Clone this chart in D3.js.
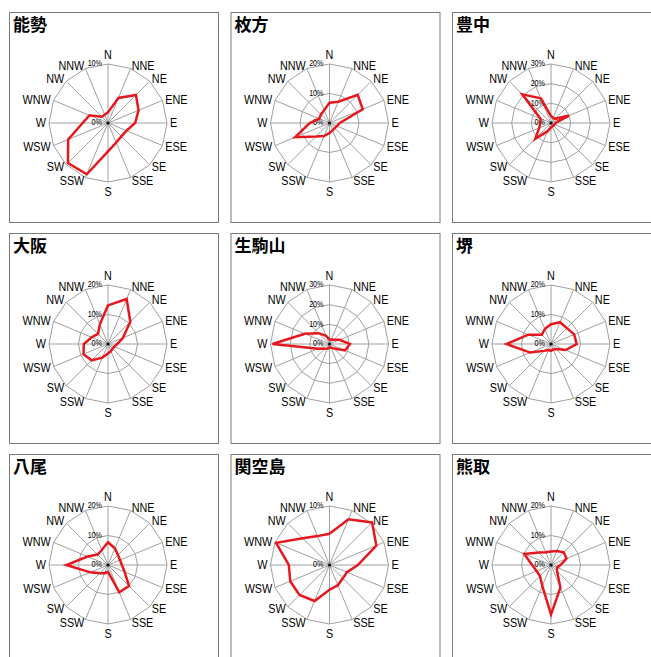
<!DOCTYPE html>
<html>
<head>
<meta charset="utf-8">
<script src="https://cdn.jsdelivr.net/npm/d3@7"></script>
<style>
  body { margin: 0; background: #fff; }
  svg text { font-family: "Liberation Sans", Arial, sans-serif; fill: #000; }
  .title { font-family: "Noto Sans CJK JP", sans-serif; font-weight: bold; }
</style>
</head>
<body>
<div id="chart"></div>
<script>
// wind directions, clockwise from north
const directions = ["N", "NNE", "NE", "ENE", "E", "ESE", "SE", "SSE",
                    "S", "SSW", "SW", "WSW", "W", "WNW", "NW", "NNW"]

const stations = ["能勢", "枚方", "豊中", "大阪", "生駒山", "堺", "八尾", "関空島", "熊取"]
// outer ring value (%) of each rose, rings every 10%
const scaleMax = [10, 20, 30, 20, 30, 20, 20, 10, 20]
const ringStep = 10

// frequency (%) by direction, same order as directions
const nose      = [1.8, 4.6, 6.7, 5.6, 4.6, 3.4, 3.2, 3.6, 4.8, 9.4, 9.6, 7.3, 4.3, 3.4, 1.5, 1.5]
const hirakata  = [6.9, 7.8, 13.5, 12.2, 3.5, 2.7, 2.5, 2.7, 3.4, 4.8, 6.5, 12.6, 6.7, 3.8, 4.1, 4.7]
const toyonaka  = [3.5, 2.8, 3.0, 9.9, 2.3, 2.0, 1.8, 1.8, 2.3, 4.5, 11.3, 6.5, 5.5, 5.8, 20.6, 13.6]
const osaka     = [13.1, 16.5, 10.7, 5.5, 3.1, 2.3, 2.2, 2.6, 3.2, 5.0, 7.8, 9.0, 8.2, 6.0, 4.8, 7.2]
const ikomayama = [2.3, 2.5, 3.0, 5.5, 10.4, 8.5, 3.3, 2.0, 1.8, 2.5, 3.5, 6.2, 29.0, 13.6, 7.8, 4.5]
const sakai     = [6.7, 8.0, 7.6, 8.5, 8.7, 5.3, 2.4, 2.0, 2.3, 2.2, 3.3, 7.6, 15.1, 8.3, 4.4, 5.5]
const yao       = [7.7, 6.1, 4.8, 4.4, 4.7, 6.1, 10.1, 10.0, 2.3, 3.0, 3.9, 6.5, 14.1, 7.5, 5.0, 5.5]
const kankujima = [5.3, 8.4, 10.2, 8.6, 4.8, 3.2, 3.2, 3.7, 4.2, 6.6, 7.2, 7.2, 6.9, 9.8, 6.4, 5.3]
const kumatori  = [4.6, 5.1, 6.1, 5.7, 3.2, 2.2, 2.9, 8.3, 16.8, 7.7, 5.3, 5.3, 6.4, 9.8, 6.0, 4.7]

const series = [nose, hirakata, toyonaka, osaka, ikomayama, sakai, yao, kankujima, kumatori]

const width = 651, height = 657
const panelW = 209, panelH = 210
const stepX = 221.5, stepY = 221
const marginLeft = 9, marginTop = 12
const R = 59

const svg = d3.select("#chart")
  .append("svg")
  .attr("width", width)
  .attr("height", height)

const angle = d3.scaleLinear()
  .domain([0, directions.length])
  .range([0, 2 * Math.PI])

stations.forEach((name, k) => {
  const px = marginLeft + (k % 3) * stepX
  const py = marginTop + Math.floor(k / 3) * stepY
  const g = svg.append("g").attr("transform", `translate(${px},${py})`)

  g.append("rect")
    .attr("x", 0.5).attr("y", 0.5)
    .attr("width", panelW).attr("height", panelH)
    .attr("fill", "none")
    .attr("stroke", "#7a7a7a")
    .attr("stroke-width", 1)

  g.append("text")
    .attr("class", "title")
    .attr("x", 4).attr("y", 19)
    .attr("font-size", 17)
    .text(name)

  const rose = g.append("g").attr("transform", `translate(99,111)`)
  const r = d3.scaleLinear().domain([0, scaleMax[k]]).range([0, R])

  const ring = d3.lineRadial()
    .angle((d, i) => angle(i))
    .radius(d => r(d))
    .curve(d3.curveLinearClosed)

  // rings
  const rings = d3.range(ringStep, scaleMax[k] + 0.1, ringStep)
  rose.selectAll(".ring")
    .data(rings)
    .enter().append("path")
    .attr("class", "ring")
    .attr("d", v => ring(directions.map(() => v)))
    .attr("fill", "none")
    .attr("stroke", "#a0a0a0")
    .attr("stroke-width", 1)

  // spokes
  rose.selectAll(".spoke")
    .data(directions)
    .enter().append("line")
    .attr("class", "spoke")
    .attr("x2", (d, i) => R * Math.sin(angle(i)))
    .attr("y2", (d, i) => -R * Math.cos(angle(i)))
    .attr("stroke", "#a0a0a0")
    .attr("stroke-width", 1)

  // direction labels (font is a bit condensed in the original)
  rose.selectAll(".dir")
    .data(directions)
    .enter().append("text")
    .attr("class", "dir")
    .attr("font-size", 12)
    .attr("transform", (d, i) => {
      const x = (R + 3) * Math.sin(angle(i))
      let y = -(R + 3) * Math.cos(angle(i))
      if (d === "N") y = -(R + 9)
      if (d === "S") y = R + 10
      return `translate(${x},${y}) scale(0.9,1)`
    })
    .attr("dy", "0.36em")
    .attr("text-anchor", (d, i) => {
      const s = Math.sin(angle(i))
      return s > 0.1 ? "start" : s < -0.1 ? "end" : "middle"
    })
    .text(d => d)

  // tick labels along the north spoke
  rose.selectAll(".tick")
    .data([0].concat(rings))
    .enter().append("text")
    .attr("class", "tick")
    .attr("font-size", 9)
    .attr("transform", v => `translate(-6,${-r(v) - 1}) scale(0.8,1)`)
    .attr("dy", "0.36em")
    .attr("text-anchor", "end")
    .text(v => v + "%")

  rose.append("circle")
    .attr("r", 1.6)
    .attr("fill", "#111")

  // data polygon
  rose.append("path")
    .attr("d", ring(series[k]))
    .attr("fill", "none")
    .attr("stroke", "#e8171d")
    .attr("stroke-width", 2.5)
    .attr("stroke-linejoin", "miter")
})
</script>
</body>
</html>
